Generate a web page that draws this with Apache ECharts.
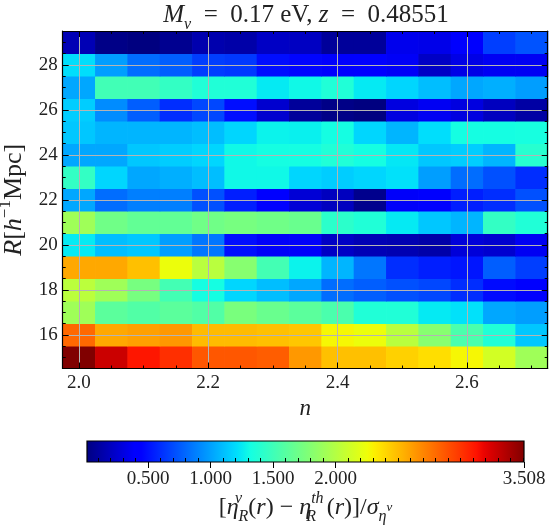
<!DOCTYPE html>
<html><head><meta charset="utf-8">
<script src="https://cdn.jsdelivr.net/npm/echarts@6/dist/echarts.min.js"></script>
<style>html,body{margin:0;padding:0;background:#fff}#c{width:556px;height:525px}</style>
</head><body><div id="c"></div>
<script>
// ---- data ----
const nValues = [2.00, 2.05, 2.10, 2.15, 2.20, 2.25, 2.30, 2.35, 2.40, 2.45, 2.50, 2.55, 2.60, 2.65, 2.70];
const rValues = [15, 16, 17, 18, 19, 20, 21, 22, 23, 24, 25, 26, 27, 28, 29];
const row15 = [3.508, 3.28, 3.11, 3.02, 2.87, 2.87, 2.85, 2.63, 2.48, 2.48, 2.42, 2.37, 2.28, 2.13, 1.91];
const row16 = [2.81, 2.57, 2.60, 2.63, 2.50, 2.50, 2.48, 2.46, 2.28, 2.24, 2.02, 1.81, 1.55, 1.37, 1.13];
const row17 = [1.91, 1.62, 1.58, 1.62, 1.58, 1.75, 1.68, 1.62, 1.55, 1.37, 1.37, 1.25, 1.22, 1.02, 0.99];
const row18 = [2.03, 1.91, 1.74, 1.52, 1.32, 1.18, 1.10, 1.02, 0.82, 0.77, 0.72, 0.69, 0.60, 0.48, 0.42];
const row19 = [2.57, 2.57, 2.48, 2.24, 2.02, 1.81, 1.52, 1.28, 1.07, 0.85, 0.60, 0.55, 0.52, 0.77, 0.66];
const row20 = [1.25, 1.10, 1.13, 0.99, 0.85, 0.49, 0.38, 0.38, 0.22, 0.17, 0.16, 0.13, 0.28, 0.25, 0.36];
const row21 = [1.91, 1.71, 1.65, 1.65, 1.71, 1.74, 1.71, 1.68, 1.42, 1.37, 1.25, 1.13, 1.07, 1.45, 1.37];
const row22 = [1.02, 0.82, 0.88, 0.88, 0.72, 0.55, 0.42, 0.27, 0.20, 0.05, 0.38, 0.41, 0.55, 0.60, 0.72];
const row23 = [1.45, 1.18, 1.02, 1.05, 1.10, 1.30, 1.30, 1.18, 1.15, 1.18, 1.22, 0.99, 0.82, 0.72, 0.60];
const row24 = [1.02, 1.02, 1.13, 1.15, 1.18, 1.30, 1.32, 1.32, 1.37, 1.32, 1.24, 1.13, 1.15, 1.07, 1.40];
const row25 = [1.13, 1.07, 1.07, 1.07, 1.10, 1.18, 1.28, 1.27, 1.32, 1.18, 1.07, 1.21, 1.32, 1.32, 1.33];
const row26 = [1.15, 0.93, 0.77, 0.60, 0.69, 0.49, 0.25, 0.09, 0.03, 0.01, 0.30, 0.36, 0.30, 0.20, 0.12];
const row27 = [1.02, 1.51, 1.51, 1.45, 1.37, 1.37, 1.25, 1.30, 1.37, 1.25, 1.18, 1.10, 1.02, 1.05, 0.99];
const row28 = [1.21, 0.99, 0.82, 0.77, 0.66, 0.64, 0.49, 0.46, 0.40, 0.42, 0.37, 0.22, 0.32, 0.36, 0.36];
const row29 = [0.17, 0.03, 0.01, 0.06, 0.15, 0.13, 0.22, 0.21, 0.09, 0.09, 0.34, 0.33, 0.40, 0.66, 0.73];
const rowsBottomToTop = [row15, row16, row17, row18, row19, row20, row21, row22, row23, row24, row25, row26, row27, row28, row29];

const xTickLabels = [2.0, 2.2, 2.4, 2.6];
const yTickLabels = [16, 18, 20, 22, 24, 26, 28];
const cbTickLabels = [0.5, 1.0, 1.5, 2.0, 3.508];
const cbMin = 0.01, cbMax = 3.508;

// ---- build ----
const cells = [];
rowsBottomToTop.forEach((row, j) => row.forEach((v, i) => cells.push([nValues[i], rValues[j], v])));
const dn = nValues[1] - nValues[0];
const dr = rValues[1] - rValues[0];
const xMin = nValues[0] - dn / 2, xMax = nValues[nValues.length - 1] + dn / 2;
const yMin = rValues[0] - dr / 2, yMax = rValues[rValues.length - 1] + dr / 2;

function near(a, list) { return list.some(b => Math.abs(a - b) < 1e-6); }
const xMinor = [], yMinor = [], cbMinor = [];
for (let k = 40; k <= 54; k++) { const v = +(k * 0.05).toFixed(2); if (!near(v, xTickLabels)) xMinor.push(v); }
for (let k = 30; k <= 59; k++) { const v = k * 0.5; if (!near(v, yTickLabels)) yMinor.push(v); }
for (let k = 1; k <= 35; k++) { const v = +(k * 0.1).toFixed(1); if (!near(v, cbTickLabels)) cbMinor.push(v); }

function interp(t, pts) {
  for (let k = 1; k < pts.length; k++) {
    if (t <= pts[k][0]) { const [x0, y0] = pts[k - 1], [x1, y1] = pts[k]; return y0 + (y1 - y0) * (t - x0) / (x1 - x0); }
  }
  return pts[pts.length - 1][1];
}
function jet(t) {
  const r = interp(t, [[0, 0], [0.35, 0], [0.66, 1], [0.89, 1], [1, 0.5]]);
  const g = interp(t, [[0, 0], [0.125, 0], [0.375, 1], [0.64, 1], [0.91, 0], [1, 0]]);
  const b = interp(t, [[0, 0.5], [0.11, 1], [0.34, 1], [0.65, 0], [1, 0]]);
  return 'rgb(' + Math.round(r * 255) + ',' + Math.round(g * 255) + ',' + Math.round(b * 255) + ')';
}
const jetStops = Array.from({ length: 65 }, (_, k) => jet(k / 64));

const FONT = 'Liberation Serif';
const C = '#222';
function mkRich(big, small, lh) {
  const base = { fontFamily: FONT, fontWeight: 'normal', color: C };
  return {
    t: { ...base, fontSize: big, lineHeight: lh, verticalAlign: 'middle' },
    i: { ...base, fontSize: big, fontStyle: 'italic', lineHeight: lh, verticalAlign: 'middle' },
    sub: { ...base, fontSize: small, fontStyle: 'italic', lineHeight: small + 2, verticalAlign: 'bottom' },
    sub0: { ...base, fontSize: small, fontStyle: 'italic', lineHeight: small + 2, verticalAlign: 'bottom', width: 0.01 },
    sup: { ...base, fontSize: small, fontStyle: 'italic', lineHeight: small + 2, verticalAlign: 'top' },
    sup0: { ...base, fontSize: small, fontStyle: 'italic', lineHeight: small + 2, verticalAlign: 'top', width: 0.01 },
    supn: { ...base, fontSize: small, lineHeight: small + 2, verticalAlign: 'top' },
    tiny: { ...base, fontSize: small - 3, fontStyle: 'italic', lineHeight: small, verticalAlign: 'middle' }
  };
}
const richTitle = mkRich(25, 16, 36);
const richY = mkRich(26, 17, 34);
const richCb = mkRich(24, 16, 34);

const lbl = { fontFamily: FONT, fontSize: 19, color: C };
const tickStyle = { color: '#000', width: 1 };
const lineStyle = { color: '#000', width: 1.2 };
const axisCommon = (gridIndex) => ({ gridIndex, type: 'value', z: 10, splitLine: { show: false }, axisLabel: { show: false }, axisLine: { show: false }, axisTick: { show: false } });

const chart = echarts.init(document.getElementById('c'), null, { renderer: 'canvas' });
chart.setOption({
  animation: false,
  backgroundColor: '#fff',
  title: {
    text: '{i|M}{sub|ν}{t|  =  0.17 eV, }{i|z}{t|  =  0.48551}',
    left: 306, top: -3, textAlign: 'center', padding: 0,
    textStyle: { fontWeight: 'normal', rich: richTitle }
  },
  grid: [
    { left: 62.7, top: 31, width: 485, height: 337.5, containLabel: false, outerBoundsMode: 'none' },
    { left: 87, top: 441, width: 437, height: 21, containLabel: false, outerBoundsMode: 'none' }
  ],
  visualMap: {
    show: false, type: 'continuous', seriesIndex: 0, dimension: 2,
    min: cbMin, max: cbMax, inRange: { color: jetStops }
  },
  xAxis: [
    Object.assign(axisCommon(0), { min: xMin, max: xMax, position: 'bottom',
      axisLine: { show: true, onZero: false, lineStyle },
      axisTick: { show: true, inside: true, length: 6, customValues: xTickLabels, lineStyle: tickStyle },
      axisLabel: { show: true, customValues: xTickLabels, margin: 5, formatter: v => v.toFixed(1), ...lbl },
      name: 'n', nameLocation: 'middle', nameGap: 22,
      nameTextStyle: { fontFamily: FONT, fontSize: 23, fontStyle: 'italic', color: C } }),
    Object.assign(axisCommon(0), { min: xMin, max: xMax, position: 'bottom',
      axisTick: { show: true, inside: true, length: 3, customValues: xMinor, lineStyle: tickStyle } }),
    Object.assign(axisCommon(0), { min: xMin, max: xMax, position: 'top',
      axisLine: { show: true, onZero: false, lineStyle },
      axisTick: { show: true, inside: true, length: 6, customValues: xTickLabels, lineStyle: tickStyle } }),
    Object.assign(axisCommon(0), { min: xMin, max: xMax, position: 'top',
      axisTick: { show: true, inside: true, length: 3, customValues: xMinor, lineStyle: tickStyle } }),
    Object.assign(axisCommon(1), { min: cbMin, max: cbMax, position: 'bottom',
      axisTick: { show: true, inside: false, length: 6, customValues: cbTickLabels, lineStyle: tickStyle },
      axisLabel: { show: true, customValues: cbTickLabels, margin: 8, formatter: v => v.toFixed(3), ...lbl },
      name: '{t|[}{i|η}{sup0|ν}{sub|R}{t|(}{i|r}{t|) − }{i|η}{sub0|R}{sup|th\u2009}{t|(}{i|r}{t|)]/}{i|σ}{sub|η}{tiny|ν}',
      nameLocation: 'middle', nameGap: 29, nameTextStyle: { rich: richCb } }),
    Object.assign(axisCommon(1), { min: cbMin, max: cbMax, position: 'bottom',
      axisTick: { show: true, inside: true, length: 4, customValues: cbMinor, lineStyle: tickStyle } })
  ],
  yAxis: [
    Object.assign(axisCommon(0), { min: yMin, max: yMax, position: 'left',
      axisLine: { show: true, onZero: false, lineStyle },
      axisTick: { show: true, inside: true, length: 6, customValues: yTickLabels, lineStyle: tickStyle },
      axisLabel: { show: true, customValues: yTickLabels, margin: 5, formatter: v => String(v), ...lbl },
      name: '{i|R}{t|[}{i|h}{supn|−1}{t|Mpc]}', nameLocation: 'middle', nameGap: 32, nameRotate: 90,
      nameTextStyle: { rich: richY } }),
    Object.assign(axisCommon(0), { min: yMin, max: yMax, position: 'left',
      axisTick: { show: true, inside: true, length: 3, customValues: yMinor, lineStyle: tickStyle } }),
    Object.assign(axisCommon(0), { min: yMin, max: yMax, position: 'right',
      axisLine: { show: true, onZero: false, lineStyle },
      axisTick: { show: true, inside: true, length: 6, customValues: yTickLabels, lineStyle: tickStyle } }),
    Object.assign(axisCommon(0), { min: yMin, max: yMax, position: 'right',
      axisTick: { show: true, inside: true, length: 3, customValues: yMinor, lineStyle: tickStyle } }),
    Object.assign(axisCommon(1), { min: 0, max: 1 })
  ],
  series: [
    {
      type: 'custom', xAxisIndex: 0, yAxisIndex: 0, clip: true, z: 2,
      data: cells,
      renderItem: (params, api) => {
        const x = api.value(0), y = api.value(1);
        const p0 = api.coord([x - dn / 2, y + dr / 2]);
        const p1 = api.coord([x + dn / 2, y - dr / 2]);
        return { type: 'rect', shape: { x: p0[0], y: p0[1], width: p1[0] - p0[0] + 0.6, height: p1[1] - p0[1] + 0.6 },
          style: { fill: api.visual('color'), stroke: null } };
      },
      markLine: {
        silent: true, symbol: 'none', animation: false, z: 5,
        label: { show: false },
        lineStyle: { color: '#b4b4b4', width: 1, type: 'solid' },
        data: xTickLabels.map(v => ({ xAxis: v })).concat(yTickLabels.map(v => ({ yAxis: v })))
      }
    },
    {
      type: 'custom', xAxisIndex: 4, yAxisIndex: 4, z: 2,
      data: [[cbMin, cbMax]],
      renderItem: (params, api) => {
        const a = api.coord([api.value(0), 1]);
        const b = api.coord([api.value(1), 0]);
        return { type: 'rect', shape: { x: a[0], y: a[1], width: b[0] - a[0], height: b[1] - a[1] },
          style: { fill: new echarts.graphic.LinearGradient(0, 0, 1, 0, jetStops.map((c, k) => ({ offset: k / (jetStops.length - 1), color: c }))),
            stroke: '#000', lineWidth: 1.2 } };
      }
    }
  ]
});
</script></body></html>
